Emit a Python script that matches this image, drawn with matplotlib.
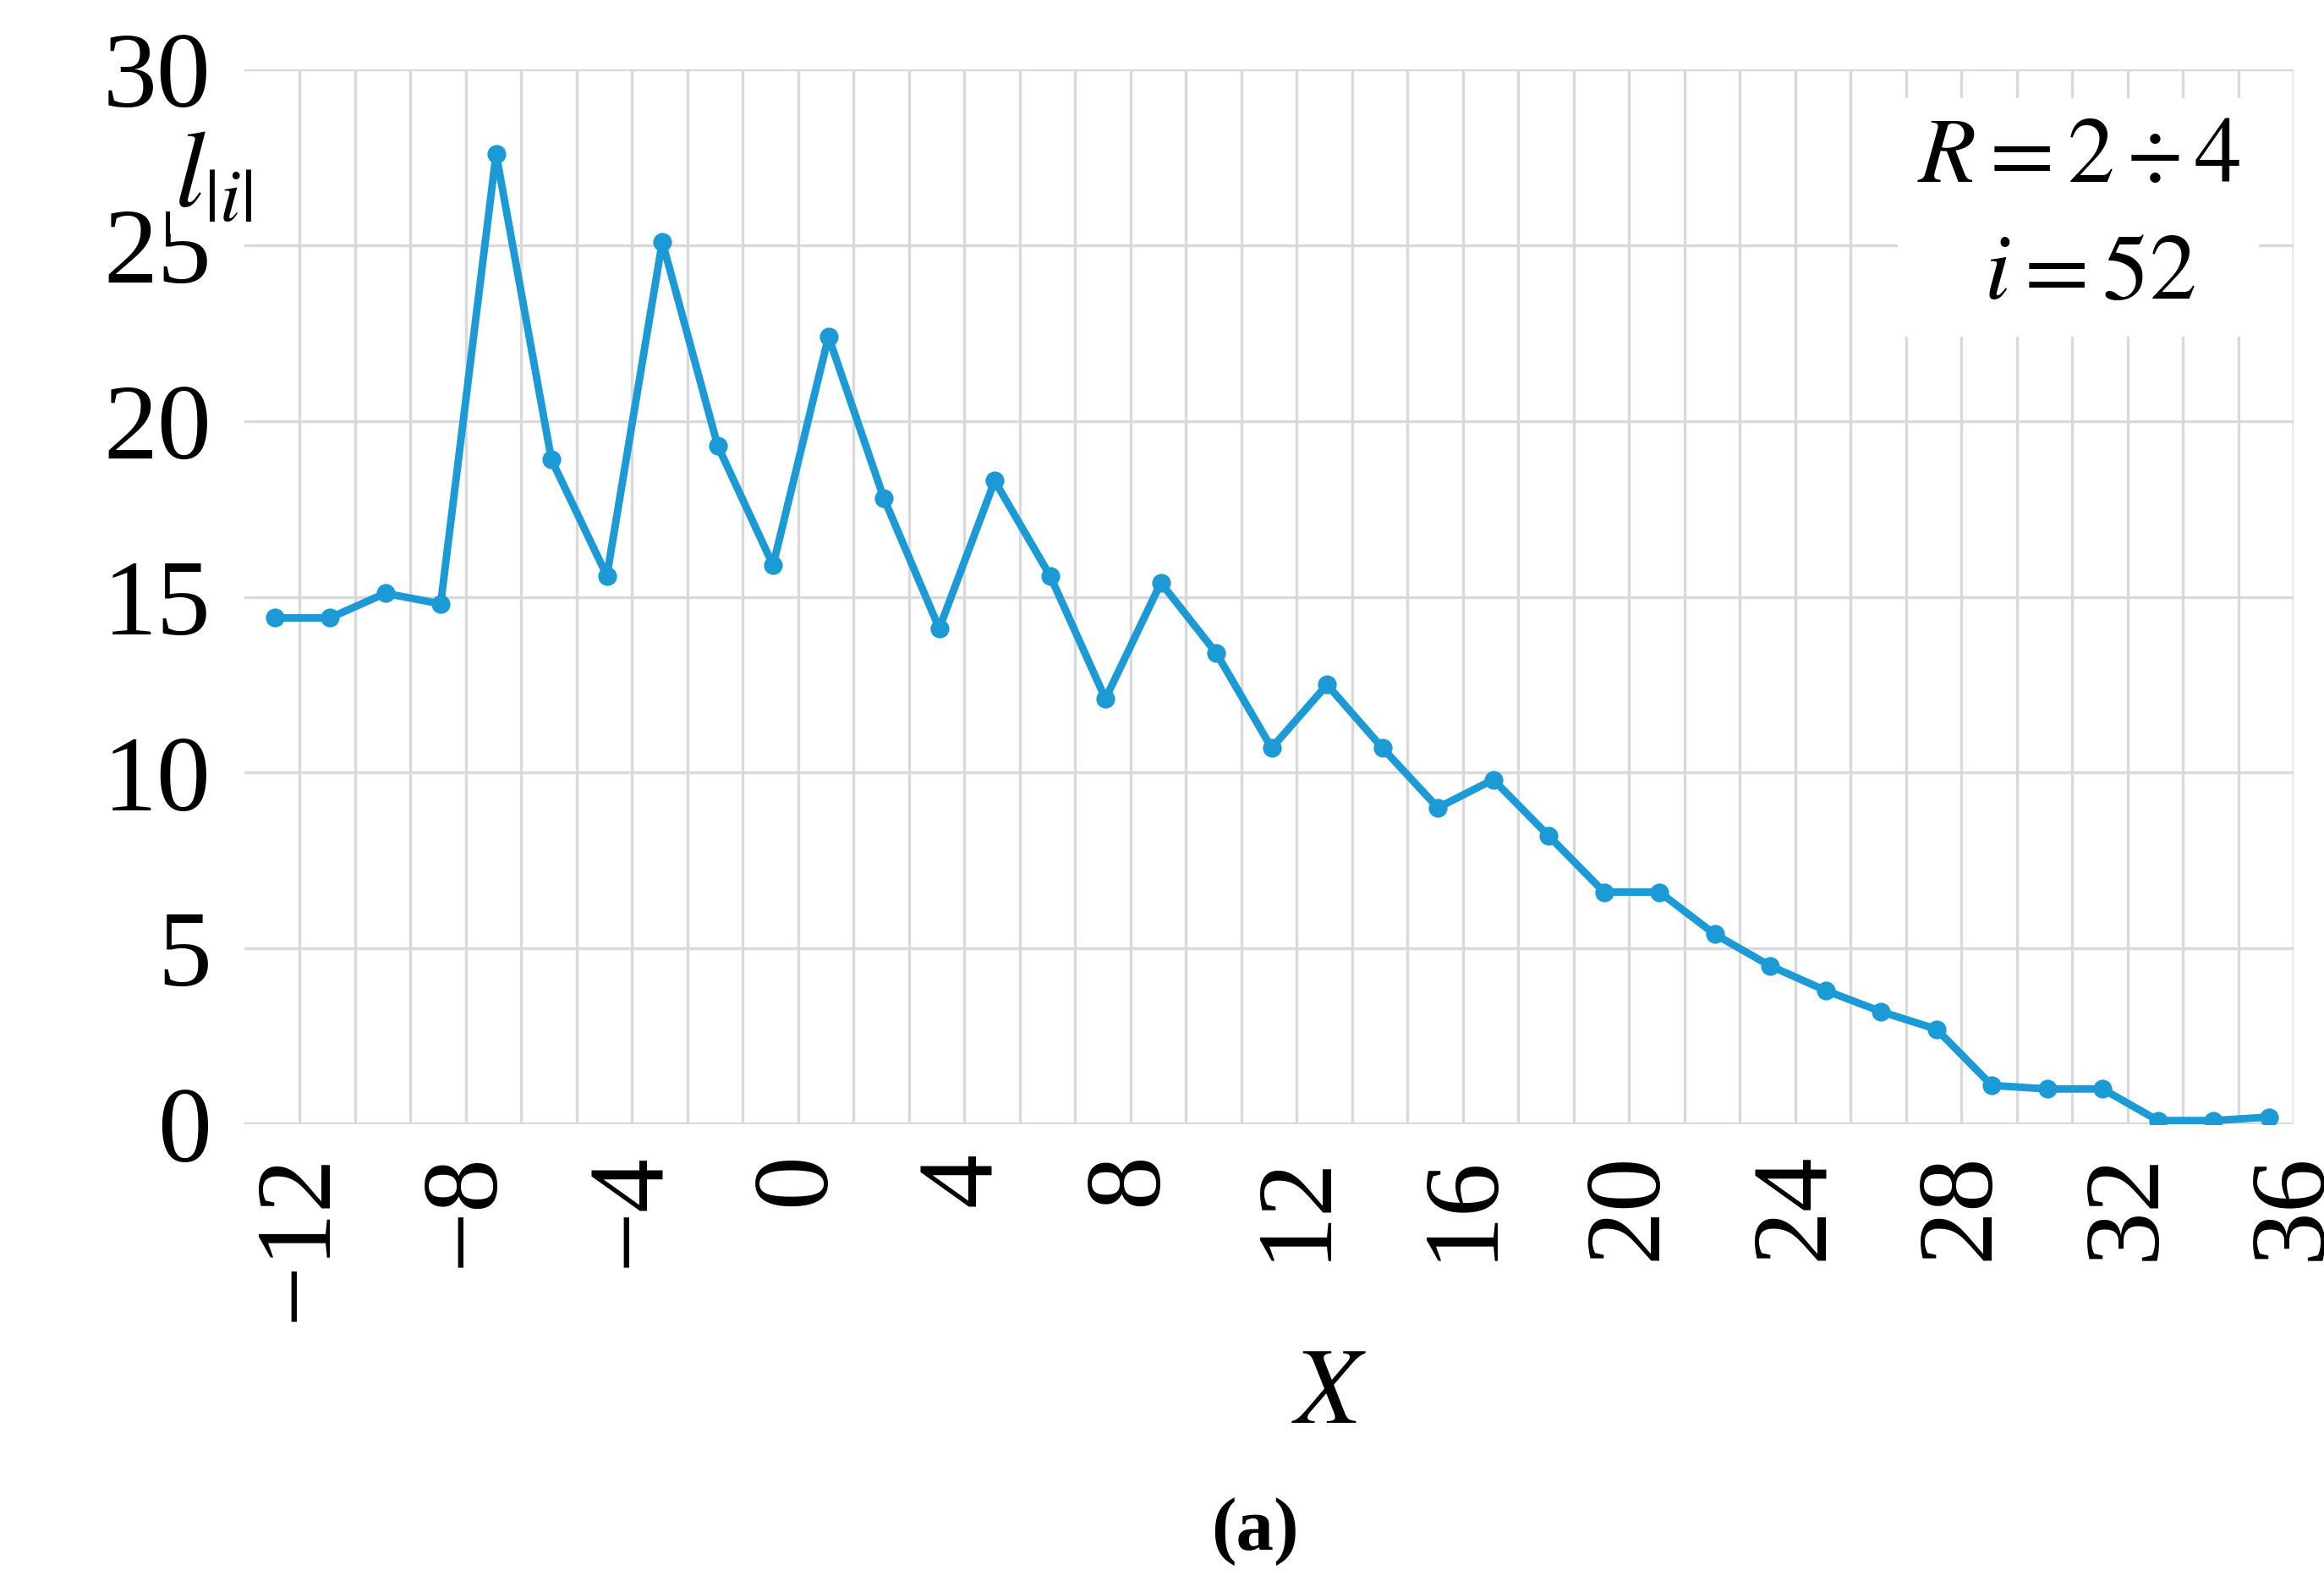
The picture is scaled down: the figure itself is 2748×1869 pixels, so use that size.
import matplotlib.pyplot as plt
from matplotlib.ticker import MultipleLocator

plt.rcParams['font.family'] = ['Liberation Serif', 'DejaVu Serif']
plt.rcParams['mathtext.fontset'] = 'stix'

xValues = [-12 + k * 4 / 3 for k in range(37)]
lValues = [14.4, 14.4, 15.1, 14.8, 27.6, 18.9, 15.6, 25.1, 19.3, 15.9,
           22.4, 17.8, 14.1, 18.3, 15.6, 12.1, 15.4, 13.4, 10.7, 12.5,
           10.7, 9.0, 9.8, 8.2, 6.6, 6.6, 5.4, 4.5, 3.8, 3.2,
           2.7, 1.1, 1.0, 1.0, 0.1, 0.1, 0.2]
tickValues = [-12, -8, -4, 0, 4, 8, 12, 16, 20, 24, 28, 32, 36]

step = 4 / 3
shift = 0.45 * step

fig = plt.figure(figsize=(13.74, 9.345), dpi=200)
ax = fig.add_axes([0.105, 0.289, 0.882, 0.667])
ax.plot(xValues, lValues, color='#1b9ad6', lw=3.2, marker='o', ms=7, zorder=3)

ax.set_xlim(xValues[0] - 0.55 * step, xValues[-1] + 0.35 * step)
ax.set_ylim(0, 30)
ax.yaxis.set_major_locator(MultipleLocator(5))
for k in range(37):
    ax.axvline(xValues[k] + shift, color='#d9d9d9', lw=1.2, zorder=1)
ax.yaxis.grid(True, color='#d9d9d9', lw=1.2, zorder=1)
ax.set_xticks([t + shift for t in tickValues])
ax.set_xticklabels(['\u2212' + str(-t) if t < 0 else str(t) for t in tickValues],
                   rotation=90, fontsize=46)
ax.tick_params(axis='y', labelsize=46, length=0, pad=14)
ax.tick_params(axis='x', length=0, pad=12)
for s in ax.spines.values():
    s.set_visible(False)
ax.axhline(0, color='#d9d9d9', lw=1.5, zorder=1)

ax.text(0.895, 0.955, '$R = 2 \\div 4$\n $i = 52$', transform=ax.transAxes,
        fontsize=40, va='top', ha='center', linespacing=1.5,
        bbox=dict(facecolor='white', edgecolor='none', pad=8), zorder=4)
fig.text(0.075, 0.855, '$l_{|i|}$', fontsize=46, va='bottom', ha='left',
         bbox=dict(facecolor='white', edgecolor='none', pad=2), zorder=4)
fig.text(0.572, 0.1, '$X$', fontsize=46, ha='center')
fig.text(0.54, 0.02, '(a)', fontsize=32, ha='center', fontweight='bold')

fig.savefig('out.png')
